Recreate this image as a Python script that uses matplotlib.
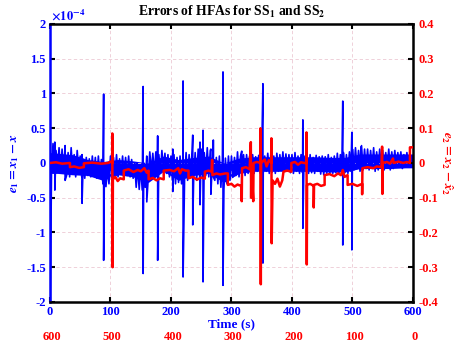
import numpy as np
import matplotlib
matplotlib.use('Agg')
import matplotlib.pyplot as plt
from matplotlib.transforms import blended_transform_factory

plt.rcParams['font.family']='Liberation Serif'
plt.rcParams['font.weight']='bold'
plt.rcParams['mathtext.fontset']='stix'

#blue error e1 (x 1e-4), sampled every 2.5 s
blue_vals=[0.25,-0.12,0.28,-0.15,0.18,-0.10,0.22,-0.14,0.20,-0.08,
           0.20,-0.18,0.15,-0.20,0.22,-0.15,0.12,-0.20,0.18,-0.12,
           0.10,-0.20,0.05,-0.22,0.08,-0.18,0.06,-0.20,0.10,-0.15,
           0.08,-0.22,0.10,-0.20,0.05,-0.30,-0.05,-0.34,-0.08,-0.30,
           0.10,-0.20,0.08,-0.18,0.12,-0.20,0.06,-0.16,0.10,-0.20,
           0.08,-0.18,0.10,-0.20,0.05,-0.22,0.00,-0.35,-0.05,-0.38,
           -0.05,-0.39,0.00,-0.35,0.10,-0.20,0.16,-0.12,0.14,-0.15,
           0.16,-0.12,0.12,-0.15,0.18,-0.10,0.14,-0.15,0.12,-0.20,
           0.10,-0.25,0.12,-0.30,0.08,-0.28,0.10,-0.30,0.12,-0.22,
           0.15,-0.25,0.12,-0.20,0.18,-0.22,0.15,-0.25,0.20,-0.20,
           0.20,-0.20,0.15,-0.18,0.22,-0.20,0.18,-0.15,0.10,-0.25,
           0.08,-0.30,0.10,-0.35,0.05,-0.38,0.07,-0.30,0.10,-0.25,
           0.10,-0.20,0.08,-0.18,0.16,-0.20,0.10,-0.15,0.12,-0.18,
           0.12,-0.15,0.10,-0.14,0.12,-0.15,0.09,-0.12,0.11,-0.15,
           0.12,-0.15,0.10,-0.12,0.14,-0.15,0.12,-0.13,0.10,-0.15,
           0.14,-0.12,0.12,-0.10,0.16,-0.12,0.13,-0.10,0.12,-0.14,
           0.12,-0.15,0.15,-0.12,0.10,-0.15,0.12,-0.14,0.10,-0.12,
           0.10,-0.15,0.12,-0.14,0.08,-0.15,0.11,-0.12,0.09,-0.16,
           0.10,-0.17,0.09,-0.15,0.12,-0.16,0.08,-0.15,0.10,-0.14,
           0.14,-0.15,0.12,-0.12,0.15,-0.14,0.12,-0.15,0.16,-0.12,
           0.20,-0.10,0.22,-0.08,0.18,-0.12,0.25,-0.10,0.20,-0.08,
           0.20,-0.10,0.18,-0.08,0.22,-0.12,0.16,-0.10,0.20,-0.06,
           0.18,-0.10,0.15,-0.06,0.20,-0.10,0.16,-0.08,0.18,-0.05,
           0.15,-0.05,0.16,-0.08,0.12,-0.04,0.15,-0.06,0.14,-0.05]

#dense core of the blue band, one pair per 25 s
core_t =[0,12.5,37.5,62.5,87.5,112.5,137.5,162.5,187.5,212.5,237.5,262.5,287.5,312.5,337.5,362.5,387.5,412.5,437.5,462.5,487.5,512.5,537.5,562.5,587.5,600]
core_hi=[0.15,0.14,0.12,0.05,0.02,0.05,0.03,0.00,0.10,0.05,0.08,0.10,0.00,0.07,0.09,0.09,0.09,0.09,0.09,0.08,0.08,0.13,0.13,0.13,0.13,0.13]
core_lo=[-0.15,-0.15,-0.17,-0.18,-0.25,-0.17,-0.20,-0.28,-0.12,-0.25,-0.18,-0.15,-0.28,-0.15,-0.12,-0.12,-0.12,-0.12,-0.12,-0.13,-0.13,-0.08,-0.08,-0.08,-0.07,-0.07]

#blue spikes: time, top, bottom
blue_spike_t =[0,   8,    25,   53,   88.7, 154,  160,  178,  203,  220,  236,  248,  253,  266,  270,  286,  317,  352,  418,  484,  499,  514]
blue_spike_hi=[2.5, 0.30, 0.25, 0.12, 0.99, 1.10, 0.05, 0.39, 0.20, 1.18, 0.40, 0.30, 0.47, 0.20, 0.33, 1.31, 0.17, 1.14, 0.62, 0.89, 0.44, 0.23]
blue_spike_lo=[-2.5,-0.39,-0.25,-0.58,-1.40,-1.59,-0.56,-1.40,-0.41,-1.64,-0.89,-0.60,-1.71,-0.45,-0.20,-1.76,-0.30,-1.44,-0.94,-1.18,-1.25,-0.10]

#red error e2
red_t=[0,10,20,33,33,40,48,56,56,70,85,96,100,103,103,103.5,104,108,112,116,122,122,130,138,145,150,156,160,163,163,
       170,176,182,188,188,198,205,212,215,218,224,229,229,236,243,250,256,256,262,267,268,268.5,275,281,290,294,294,300,305,310,
       316,317,317.5,324,330,332,332.5,333,336,336.5,342,348,348,348.5,349,355,358,362,366,366,366.5,368,372,376,380,384,386,392,
       399,399,405,410,415,420,424,424,424.5,425,430,436,436,436.5,442,448,454,454,462,470,476,481,484,487,492,492,500,508,
       516,516,516.5,525,535,540,548,549,549.5,550,557,562,567,568,576,584,590,595,595,600]
red_v=[0.0,0.002,-0.002,0.0,-0.012,-0.010,-0.014,-0.012,-0.001,0.001,-0.002,0.0,0.004,0.0,0.085,-0.30,-0.047,-0.040,-0.052,-0.044,-0.047,-0.022,-0.018,-0.026,-0.020,-0.024,-0.015,-0.028,-0.022,-0.047,
       -0.043,-0.050,-0.044,-0.047,-0.022,-0.020,-0.024,-0.015,-0.030,-0.018,-0.022,-0.022,-0.044,-0.040,-0.048,-0.042,-0.045,-0.025,-0.022,-0.025,0.009,-0.035,-0.030,-0.033,-0.030,-0.030,-0.063,-0.060,-0.068,-0.062,
       -0.066,-0.110,-0.015,-0.012,-0.018,0.060,-0.100,-0.005,-0.110,0.0,0.003,0.0,0.100,-0.349,0.0,0.010,-0.010,0.008,0.0,0.071,-0.231,-0.050,-0.060,-0.045,-0.068,-0.050,-0.025,-0.022,
       -0.025,0.0,0.003,-0.005,0.002,0.0,0.0,0.088,-0.292,-0.063,-0.060,-0.066,-0.128,-0.063,-0.060,-0.066,-0.063,-0.035,-0.032,-0.038,-0.030,-0.035,-0.020,-0.040,-0.035,-0.063,-0.060,-0.066,
       -0.060,-0.090,-0.015,-0.012,-0.015,-0.010,-0.012,0.047,-0.089,0.0,0.003,-0.002,0.013,0.0,0.004,0.0,0.003,0.0,0.045,0.045]

xticks=[0,100,200,300,400,500,600]
red_xticklabels=['600','500','400','300','200','100','0']
left_ticks=[-2,-1.5,-1,-0.5,0,0.5,1,1.5,2]
right_ticks=[-0.4,-0.3,-0.2,-0.1,0,0.1,0.2,0.3,0.4]

#merge the spikes into the blue series
t_blue=np.linspace(0,600,len(blue_vals),endpoint=False)
t_all=np.concatenate([t_blue,np.array(blue_spike_t),np.array(blue_spike_t)+0.01])
v_all=np.concatenate([blue_vals,blue_spike_hi,blue_spike_lo])
order=np.argsort(t_all,kind='stable')
t_all=t_all[order]
v_all=v_all[order]

fig=plt.figure(figsize=(4.56,3.49),dpi=100)
ax=fig.add_axes([0.1096,0.1347,0.796,0.7966])

ax.fill_between(core_t,core_lo,core_hi,color='blue',linewidth=0)
ax.plot(t_all,v_all,color='blue',linewidth=1.2)
ax.set_xlim(0,600)
ax.set_ylim(-2,2)
ax.set_xticks(xticks)
ax.set_yticks(left_ticks)
ax.set_yticklabels(['-2','-1.5','-1','-0.5','0','0.5','1','1.5','2'])
ax.grid(True,color='#ecc9d3',linestyle=(0,(4,3)),linewidth=0.6)
ax.tick_params(direction='in',top=True,length=3.5,width=1.5,labelsize=9,colors='blue',pad=3)
ax.tick_params(axis='both',color='black')
for side in ['top','bottom','right']:
    ax.spines[side].set_linewidth(1.8)
ax.spines['left'].set_linewidth(1.8)
ax.spines['left'].set_color('blue')

ax.set_xlabel('Time (s)',color='blue',fontsize=9.5,fontweight='bold',labelpad=0)
ax.set_ylabel(r'$e_1 = x_1 - x$',color='blue',fontsize=9.5,labelpad=4)
ax.text(0.004,1.004,r'$\times10^{-4}$',transform=ax.transAxes,color='blue',fontsize=9,va='bottom',ha='left')
ax.set_title(r'Errors of HFAs for SS$_\mathbf{1}$ and SS$_\mathbf{2}$',fontsize=9.8,fontweight='bold',pad=6)

#right axis
ax2=ax.twinx()
ax2.plot(red_t,red_v,color='red',linewidth=1.8)
ax2.set_ylim(-0.4,0.4)
ax2.set_yticks(right_ticks)
ax2.set_yticklabels(['-0.4','-0.3','-0.2','-0.1','0','0.1','0.2','0.3','0.4'])
ax2.tick_params(direction='in',length=3.5,width=1.5,labelsize=9,labelcolor='red',color='black',pad=4)
for side in ['top','bottom','right','left']:
    ax2.spines[side].set_visible(False)
ax2.set_ylabel(r'$e_2 = x_2 - \hat{x}_2$',color='red',fontsize=9.5,rotation=-90,labelpad=12)

#reversed time labels in red under the axis
trans=blended_transform_factory(ax.transData,fig.transFigure)
for xt,lab in zip(xticks,red_xticklabels):
    ax.text(xt+3,0.034,lab,transform=trans,color='red',fontsize=9,fontweight='bold',ha='center',va='center')

fig.savefig('out.png',dpi=100)
